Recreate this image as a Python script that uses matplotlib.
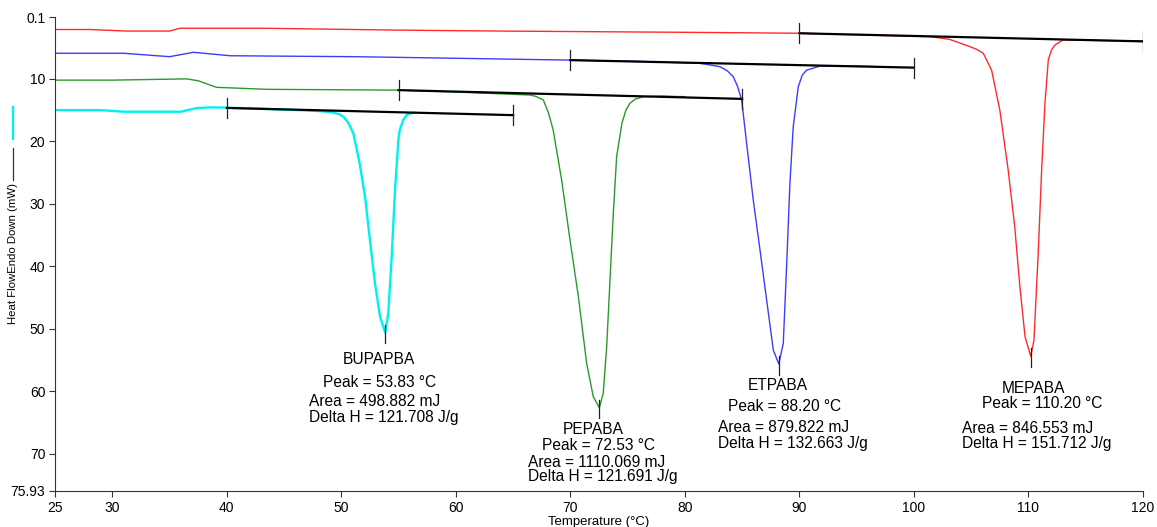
import matplotlib
matplotlib.use("Agg")
import matplotlib.pyplot as plt
from matplotlib.lines import Line2D

plt.rcParams['font.family'] = ['Liberation Sans', 'DejaVu Sans']

# BUPAPBA (cyan)
cyan_t = [25, 29, 31, 36, 37.3, 38.5, 40, 44, 47, 48.5, 49.3, 49.8, 50.2, 50.6, 51.05, 51.6, 52.07,
          52.5, 52.94, 53.38, 53.83, 54.1, 54.4, 54.69, 54.98, 55.1, 55.4, 55.7, 56.0, 56.4]
cyan_y = [15.0, 15.0, 15.25, 15.25, 14.7, 14.55, 14.6, 14.85, 15.05, 15.2, 15.4, 15.65, 16.05, 17.0, 18.7, 23.5, 28.85,
          35.8, 42.7, 48.05, 50.6, 47.5, 38.45, 27.8, 19.8, 18.2, 16.6, 15.8, 15.55, 15.4]

# PEPABA (green)
green_t = [25, 30, 36.5, 37.5, 39.1, 43.5, 55, 60, 66.47, 67.0, 67.64, 68.1, 68.5, 69.24, 69.97, 70.7,
           71.42, 72.0, 72.53, 72.87, 73.17, 73.46, 73.75, 74.04, 74.5, 74.85, 75.2, 75.7, 76.37, 78, 80]
green_y = [10.2, 10.2, 10.0, 10.3, 11.35, 11.67, 11.8, 12.1, 12.58, 12.8, 13.38, 15.5, 18.2, 26.2, 35.8, 44.85,
           55.5, 60.85, 62.6, 60.3, 52.85, 42.2, 31.5, 22.45, 17.1, 15.0, 13.9, 13.2, 12.85, 12.75, 12.85]

# ETPABA (blue)
blue_t = [25, 31, 35, 37.1, 40.3, 51.2, 60, 70, 76, 81.32, 83.06, 83.7, 84.22, 84.6, 84.96, 85.39, 85.97,
          86.56, 87.14, 87.72, 88.2, 88.59, 88.88, 89.17, 89.46, 89.9, 90.25, 90.63, 91.8, 95, 98]
blue_y = [5.9, 5.9, 6.45, 5.75, 6.3, 6.45, 6.7, 7.0, 7.2, 7.5, 8.05, 8.7, 9.65, 11.2, 13.4, 20.3, 29.4,
          37.4, 45.4, 53.4, 55.6, 52.3, 40.05, 26.7, 17.65, 11.25, 9.4, 8.6, 7.95, 7.95, 8.1]

# MEPABA (red)
red_t = [25, 28, 31.3, 35, 35.9, 43.2, 55, 63.9, 80, 90, 95, 101.4, 103.1, 104.9, 105.5, 106.05, 106.78,
         107.5, 108.23, 108.8, 109.25, 109.7, 110.2, 110.48, 110.85, 111.15, 111.44, 111.73, 112.0, 112.3, 113.0, 116, 120]
red_y = [2.1, 2.1, 2.35, 2.35, 1.9, 1.9, 2.2, 2.35, 2.55, 2.7, 2.95, 3.25, 3.67, 4.85, 5.3, 5.9, 8.6,
         15.0, 24.6, 33.65, 43.25, 51.25, 54.4, 51.8, 37.9, 24.6, 13.9, 6.98, 5.4, 4.6, 3.78, 3.85, 3.95]

# integration baselines: (start T, start Y, end T, end Y)
baselines = [(40, 14.65, 65, 15.8),
             (55, 11.8, 85, 13.2),
             (70, 7.0, 100, 8.2),
             (90, 2.7, 120, 4.0)]

peaks_t = [53.83, 72.53, 88.20, 110.20]
peaks_y = [50.6, 62.6, 55.6, 54.4]

names = ["BUPAPBA", "PEPABA", "ETPABA", "MEPABA"]
peak_txt = ["Peak = 53.83 °C", "Peak = 72.53 °C", "Peak = 88.20 °C", "Peak = 110.20 °C"]
area_txt = ["Area = 498.882 mJ", "Area = 1110.069 mJ", "Area = 879.822 mJ", "Area = 846.553 mJ"]
dh_txt = ["Delta H = 121.708 J/g", "Delta H = 121.691 J/g", "Delta H = 132.663 J/g", "Delta H = 151.712 J/g"]

# label placement (data coords)
name_pos = [(53.3, 54.9), (72.0, 66.1), (88.1, 59.1), (110.4, 59.6)]
peak_pos = [(48.37, 58.5), (67.5, 68.7), (83.8, 62.45), (105.9, 61.9)]
area_pos = [(47.2, 61.55), (66.33, 71.35), (82.9, 65.8), (104.2, 65.9)]
dh_pos = [(47.2, 64.2), (66.33, 73.6), (82.9, 68.3), (104.2, 68.4)]

xticks = [25, 30, 40, 50, 60, 70, 80, 90, 100, 110, 120]
yticks = [0.1, 10, 20, 30, 40, 50, 60, 70, 75.93]
ytick_labels = ["0.1", "10", "20", "30", "40", "50", "60", "70", "75.93"]

fig = plt.figure(figsize=(11.57, 5.27), dpi=100)
ax = fig.add_axes([55/1157, 36/527, 1088/1157, 474/527])

ax.plot(red_t, red_y, color='#ff2a2a', lw=1.0)
ax.plot(blue_t, blue_y, color='#3c3cff', lw=1.0)
ax.plot(green_t, green_y, color='#2a9a2a', lw=1.0)
ax.plot(cyan_t, cyan_y, color='#00f0f0', lw=1.7)

for x0, y0, x1, y1 in baselines:
    ax.plot([x0, x1], [y0, y1], color='black', lw=1.6)
    ax.plot([x0, x0], [y0 - 1.6, y0 + 1.6], color='#222222', lw=0.9)
    ax.plot([x1, x1], [y1 - 1.6, y1 + 1.6], color='#222222', lw=0.9)

for pt, py in zip(peaks_t, peaks_y):
    ax.plot([pt, pt], [py - 1.3, py + 1.7], color='#222222', lw=0.9)

fs = 11.2
for i in range(4):
    ax.text(name_pos[i][0], name_pos[i][1], names[i], ha='center', va='center', fontsize=fs)
    ax.text(peak_pos[i][0], peak_pos[i][1], peak_txt[i], ha='left', va='center', fontsize=fs)
    ax.text(area_pos[i][0], area_pos[i][1], area_txt[i], ha='left', va='center', fontsize=fs)
    ax.text(dh_pos[i][0], dh_pos[i][1], dh_txt[i], ha='left', va='center', fontsize=fs)

ax.set_xlim(25, 120)
ax.set_ylim(75.93, 0.1)
ax.set_xticks(xticks)
ax.set_yticks(yticks)
ax.set_yticklabels(ytick_labels)
ax.tick_params(labelsize=10, length=4, color='#333333', direction='out', pad=3)
for s in ['top', 'right']:
    ax.spines[s].set_visible(False)
for s in ['left', 'bottom']:
    ax.spines[s].set_color('#333333')
ax.set_xlabel("Temperature (°C)", fontsize=9.5, labelpad=1)

# y axis label with colour keys
fig.text(13/1157, 1 - 254/527, "Heat FlowEndo Down (mW)", rotation=90, ha='center', va='center', fontsize=8.2)
fig.add_artist(Line2D([13/1157, 13/1157], [1 - 107/527, 1 - 139/527], color='#00f0f0', lw=1.7))
fig.add_artist(Line2D([13/1157, 13/1157], [1 - 148/527, 1 - 180/527], color='#333333', lw=0.9))

fig.savefig("out.png", dpi=100)
